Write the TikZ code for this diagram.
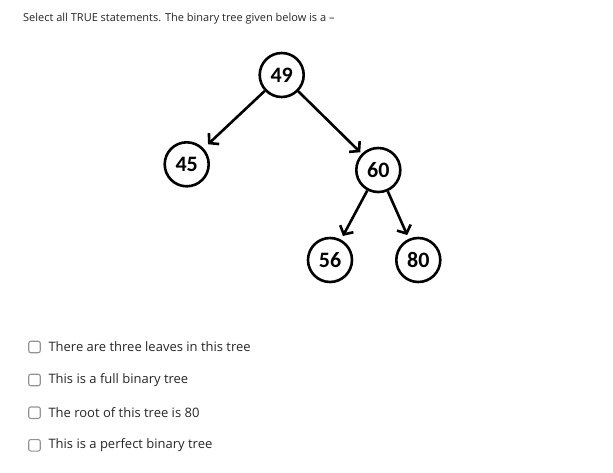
\documentclass[tikz,border=0pt]{standalone}
\usepackage{fontspec}
\setmainfont{Open Sans}
\newfontfamily\keyfont{Carlito}
\usetikzlibrary{arrows.meta, positioning}

\begin{document}
\begin{tikzpicture}[x=1pt,y=-1pt,
  key/.style={draw,circle,line width=2.6pt,minimum size=44pt,inner sep=0pt,
    font=\keyfont\bfseries\fontsize{22}{22}\selectfont},
  child/.style={line width=2.6pt,shorten >=4pt,
    -{Straight Barb[length=6.5pt,width=15pt]}},
  tickbox/.style={draw=gray!85,line width=1.1pt,rounded corners=2pt,
    minimum size=11.5pt,inner sep=0pt},
  choice/.style={inner sep=0pt,text=black!85,font=\fontsize{13}{15}\selectfont}]
\useasboundingbox (0,0) rectangle (613,472);
% Question text
\node[choice,anchor=base west,font=\fontsize{11}{14}\selectfont] (question) at (23,21)
  {Select all TRUE statements. The binary tree given below is a –};
% Keys of the tree
\node[key] (k49) at (281.7,75) {49};
\node[key] (k45) at (186.7,164.3) {45};
\node[key] (k60) at (378.3,170) {60};
\node[key] (k56) at (330,260) {56};
\node[key] (k80) at (418.3,260) {80};
% Parent to child arrows
\draw[child,shorten >=6pt] (k49) -- (k45);
\draw[child,shorten >=2pt] (k49) -- (k60);
\draw[child] (k60) -- (k56);
\draw[child] (k60) -- (k80);
% Answer choices
\node[tickbox] (box1) at (34.5,347) {};
\node[tickbox] (box2) at (34.5,380) {};
\node[tickbox] (box3) at (34.5,412.7) {};
\node[tickbox] (box4) at (34.5,445.3) {};
\node[choice,anchor=west,right=7.5pt of box1] (ans1) {There are three leaves in this tree};
\node[choice,anchor=west,right=7.5pt of box2] (ans2) {This is a full binary tree};
\node[choice,anchor=west,right=7.5pt of box3] (ans3) {The root of this tree is 80};
\node[choice,anchor=west,right=7.5pt of box4] (ans4) {This is a perfect binary tree};
\end{tikzpicture}
\end{document}
